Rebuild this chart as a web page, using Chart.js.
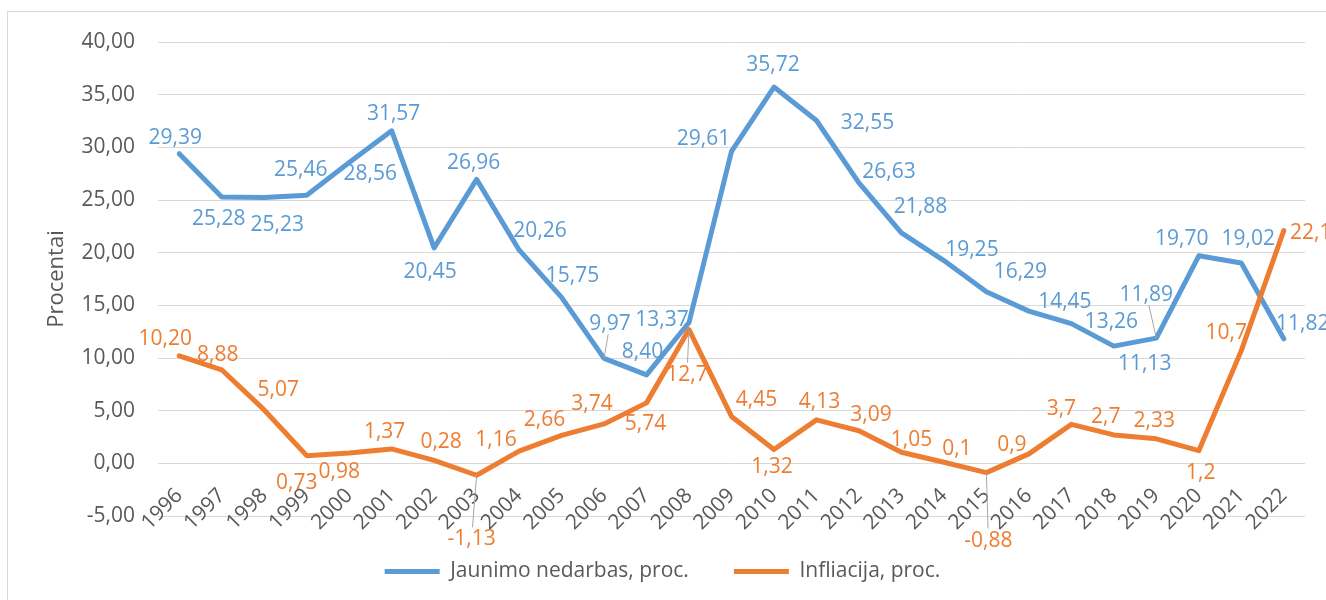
<!DOCTYPE html>
<html>
<head>
<meta charset="utf-8">
<script src="https://cdn.jsdelivr.net/npm/chart.js@4.4.0/dist/chart.umd.min.js"></script>
<style>
  html, body { margin: 0; padding: 0; background: #fff; overflow: hidden; }
  #frame { position: absolute; left: 7px; top: 11px; width: 1400px; height: 700px; border: 1px solid #d9d9d9; box-sizing: border-box; }
  #wrap { position: absolute; left: 0; top: 0; width: 1326px; height: 592px; }
</style>
</head>
<body>
<div id="frame"></div>
<div id="wrap"><canvas id="chart"></canvas></div>
<script>
const years = ['1996', '1997', '1998', '1999', '2000', '2001', '2002', '2003', '2004', '2005', '2006', '2007', '2008',
  '2009', '2010', '2011', '2012', '2013', '2014', '2015', '2016', '2017', '2018', '2019', '2020', '2021', '2022'];

const youthUnemployment = [29.39, 25.28, 25.23, 25.46, 28.56, 31.57, 20.45, 26.96, 20.26, 15.75, 9.97, 8.40, 13.37,
  29.61, 35.72, 32.55, 26.63, 21.88, 19.25, 16.29, 14.45, 13.26, 11.13, 11.89, 19.70, 19.02, 11.82];

const inflation = [10.20, 8.88, 5.07, 0.73, 0.98, 1.37, 0.28, -1.13, 1.16, 2.66, 3.74, 5.74, 12.7,
  4.45, 1.32, 4.13, 3.09, 1.05, 0.1, -0.88, 0.9, 3.7, 2.7, 2.33, 1.2, 10.7, 22.1];

const yTicks = { min: -5, max: 40, step: 5 };

// data label placement relative to the point, [dx, dy] in px
const blueLabelPos = [[-4, -17], [-3, 21], [13, 26], [-6, -26], [21, 11], [2, -18], [-4, 23], [-3, -17], [21, -20],
  [11, -22], [6, -35], [-4, -24], [-27, -3], [-28, -13], [-1, -23], [51, 2], [30, -12], [19, -27], [28, -12],
  [34, -21], [36, -10], [40, -3], [31, 17], [-10, -44], [-17, -18], [7, -25], [19, -16]];
const orangeLabelPos = [[-14, -18], [-4, -16], [14, -21], [-10, 26], [-10, 18], [-7, -18], [7, -19], [-5, 63],
  [-23, -12], [-17, -16], [-12, -21], [-1, 20], [-2, 44], [25, -17], [-2, 17], [3, -19], [12, -17], [10, -13],
  [13, -14], [2, 67], [-17, -10], [-10, -16], [-8, -19], [-2, -19], [2, 21], [-15, -19], [27, 1]];
const blueLeaders = [10, 23];
const orangeLeaders = [7, 12, 19];

const FONT = '"Open Sans"';
const comma = s => s.replace('.', ',');
const blueText = youthUnemployment.map(v => comma(v.toFixed(2)));
// the first twelve inflation labels were shown with two decimals, the rest as general numbers
const orangeText = inflation.map((v, i) => comma(i < 12 ? v.toFixed(2) : String(v)));

const pointLabels = {
  id: 'pointLabels',
  afterDatasetsDraw(chart) {
    const ctx = chart.ctx;
    const sets = [
      { texts: blueText, pos: blueLabelPos, leaders: blueLeaders, color: '#5B9BD5' },
      { texts: orangeText, pos: orangeLabelPos, leaders: orangeLeaders, color: '#ED7D31' }
    ];
    ctx.save();
    ctx.font = '21px ' + FONT;
    ctx.textAlign = 'center';
    ctx.textBaseline = 'middle';
    sets.forEach((s, di) => {
      const meta = chart.getDatasetMeta(di);
      meta.data.forEach((pt, i) => {
        const cx = pt.x + s.pos[i][0];
        const cy = pt.y + s.pos[i][1];
        if (s.leaders.includes(i)) {
          const hw = ctx.measureText(s.texts[i]).width / 2 + 2;
          const hh = 11;
          const dx = pt.x - cx, dy = pt.y - cy;
          const t = Math.min(dx ? hw / Math.abs(dx) : 1e9, dy ? hh / Math.abs(dy) : 1e9);
          ctx.strokeStyle = '#a6a6a6';
          ctx.lineWidth = 1;
          ctx.beginPath();
          ctx.moveTo(cx + dx * t, cy + dy * t);
          ctx.lineTo(pt.x, pt.y);
          ctx.stroke();
        }
        ctx.fillStyle = s.color;
        ctx.fillText(s.texts[i], cx, cy + 1);
      });
    });
    ctx.restore();
  }
};

new Chart(document.getElementById('chart'), {
  type: 'line',
  data: {
    labels: years,
    datasets: [{
      label: 'Jaunimo nedarbas, proc.',
      data: youthUnemployment,
      borderColor: '#5B9BD5',
      backgroundColor: '#5B9BD5',
      borderWidth: 5,
      borderCapStyle: 'round',
      borderJoinStyle: 'round',
      pointRadius: 0,
      tension: 0,
      order: 1
    }, {
      label: 'Infliacija, proc.',
      data: inflation,
      borderColor: '#ED7D31',
      backgroundColor: '#ED7D31',
      borderWidth: 5,
      borderCapStyle: 'round',
      borderJoinStyle: 'round',
      pointRadius: 0,
      tension: 0,
      order: 0
    }]
  },
  options: {
    responsive: true,
    maintainAspectRatio: false,
    animation: false,
    layout: { padding: { left: 20, top: 42, right: 21, bottom: 0 } },
    plugins: {
      tooltip: { enabled: false },
      legend: {
        position: 'bottom',
        labels: {
          usePointStyle: true,
          pointStyle: 'line',
          pointStyleWidth: 55,
          boxHeight: 21,
          padding: 45,
          color: '#595959',
          font: { family: FONT, size: 21 },
          sort: (a, b) => a.datasetIndex - b.datasetIndex
        }
      }
    },
    scales: {
      x: {
        type: 'category',
        position: { y: 0 },
        offset: true,
        grid: { display: false, drawTicks: false },
        border: { display: false },
        ticks: {
          autoSkip: false,
          maxRotation: 45,
          minRotation: 45,
          padding: 20,
          color: '#595959',
          font: { family: FONT, size: 21 }
        }
      },
      y: {
        min: yTicks.min,
        max: yTicks.max,
        afterFit: s => { s.width = 138; },
        grid: { color: '#d9d9d9', lineWidth: 1, drawTicks: false },
        border: { display: false },
        ticks: {
          stepSize: yTicks.step,
          padding: 23,
          color: '#595959',
          font: { family: FONT, size: 21 },
          callback: v => comma(v.toFixed(2))
        },
        title: {
          display: true,
          text: 'Procentai',
          color: '#595959',
          font: { family: FONT, size: 22 },
          padding: { top: 24, bottom: 0 }
        }
      }
    }
  },
  plugins: [pointLabels]
});
</script>
</body>
</html>
